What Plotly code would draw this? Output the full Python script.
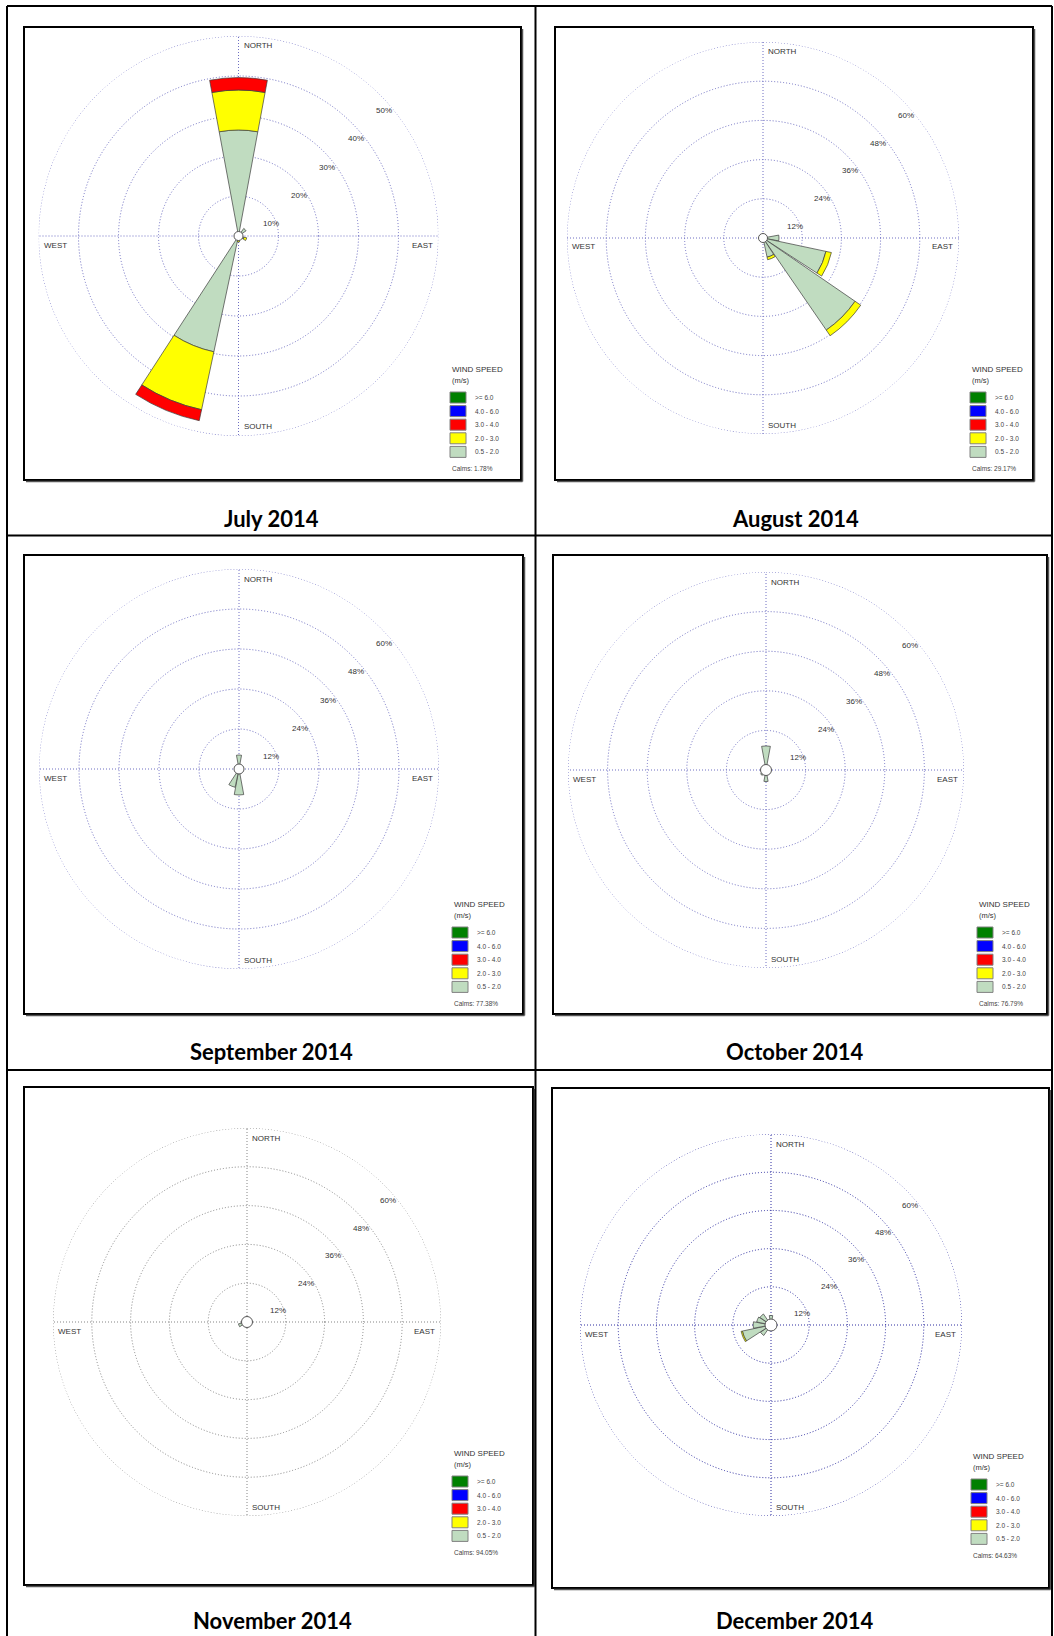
import math
import plotly.graph_objects as go

W, H = 1054, 1636

# ---- data -----------------------------------------------------------------
DIRECTIONS = ["N", "NNE", "NE", "ENE", "E", "ESE", "SE", "SSE",
              "S", "SSW", "SW", "WSW", "W", "WNW", "NW", "NNW"]
BEARINGS = [0, 22.5, 45, 67.5, 90, 112.5, 135, 157.5,
            180, 202.5, 225, 247.5, 270, 292.5, 315, 337.5]

SPEED_BINS = ["0.5 - 2.0", "2.0 - 3.0", "3.0 - 4.0", "4.0 - 6.0", ">= 6.0"]
BIN_COLORS = ["#c0dcc0", "#ffff00", "#ff0000", "#0000ff", "#008000"]

MONTHS = ["July 2014", "August 2014", "September 2014",
          "October 2014", "November 2014", "December 2014"]
CALMS = [1.78, 29.17, 77.38, 76.79, 94.05, 64.63]
RING_STEP = [10, 12, 12, 12, 12, 12]  # % per ring, five rings each

# frequency (%) by direction, per speed class
JUL_05_20 = [26.5, 0, 2.3, 0, 0, 1.4, 0, 0, 1.0, 29.6, 0, 0, 0, 0, 0, 0]
JUL_20_30 = [10.0, 0, 0, 0, 0, 0.7, 0, 0, 0.5, 14.8, 0, 0, 0, 0, 0, 0]
JUL_30_40 = [3.1, 0, 0, 0, 0, 0, 0, 0, 0, 2.8, 0, 0, 0, 0, 0, 0]

AUG_05_20 = [0, 0, 0, 0, 4.9, 19.7, 34.2, 6.0, 0, 0, 0, 0, 0, 0, 0, 0]
AUG_20_30 = [0, 0, 0, 0, 0, 1.7, 2.1, 0.8, 0, 0, 0, 0, 0, 0, 0, 0]

SEP_05_20 = [4.2, 0, 0, 0, 0, 0, 0, 0, 7.8, 5.6, 0, 0, 0, 0, 0, 0]

OCT_05_20 = [7.3, 0, 0, 0, 0, 0, 0, 0, 3.5, 0, 2.0, 0, 0, 0, 0, 0]

NOV_05_20 = [0, 0, 0, 0, 0, 0, 0, 0, 0, 0, 0, 2.7, 0, 0, 0, 0]

DEC_05_20 = [3.0, 0, 0, 0, 0, 0, 0, 0, 0, 0, 4.0, 9.2, 5.6, 4.6, 4.2, 0]
DEC_20_30 = [0, 0, 0, 0, 0, 0, 0, 0, 0, 0, 0, 0.4, 0, 0, 0, 0]

MONTH_SERIES = [
    [JUL_05_20, JUL_20_30, JUL_30_40],
    [AUG_05_20, AUG_20_30],
    [SEP_05_20],
    [OCT_05_20],
    [NOV_05_20],
    [DEC_05_20, DEC_20_30],
]

# ---- page geometry (pixels) ------------------------------------------------
PANELS = [
    dict(cx=238.5, cy=236, R=200, box=(24, 27, 521, 480), leg=(450, 369),
         grid="#6e6ec2", cap=(271, 518), calm_r=4.5),
    dict(cx=763, cy=238, R=196, box=(555, 27, 1033, 480), leg=(970, 369),
         grid="#6e6ec2", cap=(795, 518), calm_r=4.5),
    dict(cx=239, cy=769, R=200, box=(24, 555, 523, 1014), leg=(452, 904),
         grid="#6e6ec2", cap=(271, 1051), calm_r=5),
    dict(cx=766, cy=770, R=198, box=(553, 555, 1047, 1014), leg=(977, 904),
         grid="#6e6ec2", cap=(795, 1051), calm_r=5.5),
    dict(cx=247, cy=1322, R=194, box=(24, 1087, 533, 1585), leg=(452, 1453),
         grid="#858585", cap=(272, 1620), calm_r=5.5),
    dict(cx=771, cy=1325, R=191, box=(552, 1088, 1049, 1588), leg=(971, 1456),
         grid="#2c2ca0", cap=(795, 1620), calm_r=6),
]

FONT = "Liberation Sans, Arial, sans-serif"
DOTS = "1px,2px"
RING_THETA = list(range(0, 361, 2))  # sample angles for the outer dotted circle


def px(x):
    return x / W


def py(y):
    return 1 - y / H


fig = go.Figure()
shapes = []
annotations = []
layout_polars = {}

for i, (panel, series) in enumerate(zip(PANELS, MONTH_SERIES)):
    key = "polar" if i == 0 else f"polar{i + 1}"
    sub = key
    cx, cy, R = panel["cx"], panel["cy"], panel["R"]
    step = RING_STEP[i]
    rmax = step * 5

    # outer dotted ring at the top of the scale
    fig.add_trace(go.Scatterpolar(
        r=[rmax] * len(RING_THETA), theta=RING_THETA, mode="lines",
        line=dict(color=panel["grid"], width=1, dash=DOTS),
        subplot=sub, showlegend=False, hoverinfo="skip",
    ))

    # stacked petals, one trace per speed class
    for b, values in enumerate(series):
        th = [t for t, v in zip(BEARINGS, values) if v > 0]
        rr = [v for v in values if v > 0]
        if not rr:
            continue
        fig.add_trace(go.Barpolar(
            r=rr, theta=th, width=21, name=SPEED_BINS[b],
            marker=dict(color=BIN_COLORS[b], line=dict(color="#3c3c3c", width=0.7)),
            subplot=sub, showlegend=False, hoverinfo="skip",
        ))
    # calms circle
    fig.add_trace(go.Scatterpolar(
        r=[0], theta=[0], mode="markers", subplot=sub, showlegend=False,
        marker=dict(size=2 * panel["calm_r"], color="white",
                    line=dict(color="#555555", width=1)),
        hoverinfo="skip",
    ))

    layout_polars[key] = dict(
        domain=dict(x=[px(cx - R), px(cx + R)], y=[py(cy + R), py(cy - R)]),
        bgcolor="rgba(0,0,0,0)",
        barmode="stack",
        angularaxis=dict(
            rotation=90, direction="clockwise",
            tickvals=[0, 90, 180, 270], showticklabels=False, ticks="",
            showline=False, showgrid=True, gridcolor=panel["grid"],
            griddash=DOTS, gridwidth=1, layer="below traces",
        ),
        radialaxis=dict(
            range=[0, rmax], tickvals=[step * k for k in range(1, 5)],
            showticklabels=False, ticks="", showline=False, showgrid=True,
            gridcolor=panel["grid"], griddash=DOTS, gridwidth=1,
            layer="below traces",
        ),
    )

    # ring labels along the NE diagonal
    for k in range(1, 6):
        rp = R * k / 5
        annotations.append(dict(
            x=px(cx + rp / math.sqrt(2) + 4), y=py(cy - rp / math.sqrt(2) + 16),
            text=f"{step * k}%", showarrow=False, xanchor="center", yanchor="middle",
            font=dict(family=FONT, size=8, color="#333333"),
        ))

    # compass labels
    for text, x, y, xa in [
        ("NORTH", cx + 3, cy - R + 10, "left"),
        ("SOUTH", cx + 3, cy + R - 9, "left"),
        ("WEST", cx - R + 3, cy + 9, "left"),
        ("EAST", cx + R - 4, cy + 9, "right"),
    ]:
        annotations.append(dict(
            x=px(x), y=py(y), text=text, showarrow=False, xanchor=xa,
            yanchor="middle", font=dict(family=FONT, size=8, color="#333333"),
        ))

    # plot frame with a slight drop shadow
    x0, y0, x1, y1 = panel["box"]
    shapes.append(dict(type="rect", xref="paper", yref="paper",
                       x0=px(x0), x1=px(x1), y0=py(y1), y1=py(y0),
                       line=dict(color="#000000", width=2)))
    shapes.append(dict(type="line", xref="paper", yref="paper",
                       x0=px(x1 + 1.5), x1=px(x1 + 1.5), y0=py(y1 + 1.5), y1=py(y0 + 2),
                       line=dict(color="#555555", width=1.5)))
    shapes.append(dict(type="line", xref="paper", yref="paper",
                       x0=px(x0 + 2), x1=px(x1 + 1.5), y0=py(y1 + 1.5), y1=py(y1 + 1.5),
                       line=dict(color="#555555", width=1.5)))

    # wind speed key
    lx, ly = panel["leg"]
    annotations.append(dict(x=px(lx), y=py(ly), text="WIND SPEED", showarrow=False,
                            xanchor="left", yanchor="middle",
                            font=dict(family=FONT, size=8, color="#333333")))
    annotations.append(dict(x=px(lx), y=py(ly + 11), text="(m/s)", showarrow=False,
                            xanchor="left", yanchor="middle",
                            font=dict(family=FONT, size=7.5, color="#333333")))
    for j in range(5):
        b = 4 - j
        yc = ly + 28.5 + 13.6 * j
        shapes.append(dict(type="rect", xref="paper", yref="paper",
                           x0=px(lx), x1=px(lx + 16), y0=py(yc + 5.5), y1=py(yc - 5.5),
                           fillcolor=BIN_COLORS[b], line=dict(color="#808080", width=1)))
        annotations.append(dict(x=px(lx + 23), y=py(yc), text=SPEED_BINS[b],
                                showarrow=False, xanchor="left", yanchor="middle",
                                font=dict(family=FONT, size=6.5, color="#444444")))
    annotations.append(dict(x=px(lx), y=py(ly + 28.5 + 13.6 * 4 + 17),
                            text=f"Calms: {CALMS[i]:.2f}%", showarrow=False,
                            xanchor="left", yanchor="middle",
                            font=dict(family=FONT, size=6.5, color="#444444")))

    # month caption
    annotations.append(dict(x=px(panel["cap"][0]), y=py(panel["cap"][1]),
                            text=f"<b>{MONTHS[i]}</b>", showarrow=False,
                            xanchor="center", yanchor="middle",
                            font=dict(family="Lato, Carlito, sans-serif", size=22,
                                      color="#000000")))

# table rules
TABLE_LEFT, TABLE_RIGHT, TABLE_TOP = 7, 1052, 6
COL_SPLIT = 535.5
ROW_SPLITS = [535.5, 1070]
for x in [TABLE_LEFT, COL_SPLIT, TABLE_RIGHT]:
    shapes.append(dict(type="line", xref="paper", yref="paper",
                       x0=px(x), x1=px(x), y0=py(TABLE_TOP), y1=py(H + 5),
                       line=dict(color="#000000", width=2)))
for y in [TABLE_TOP] + ROW_SPLITS:
    shapes.append(dict(type="line", xref="paper", yref="paper",
                       x0=px(TABLE_LEFT), x1=px(TABLE_RIGHT), y0=py(y), y1=py(y),
                       line=dict(color="#000000", width=2)))

fig.update_layout(
    width=W, height=H,
    margin=dict(l=0, r=0, t=0, b=0),
    paper_bgcolor="white", plot_bgcolor="white",
    showlegend=False,
    shapes=shapes, annotations=annotations,
    **layout_polars,
)

fig.write_html("out.html")
